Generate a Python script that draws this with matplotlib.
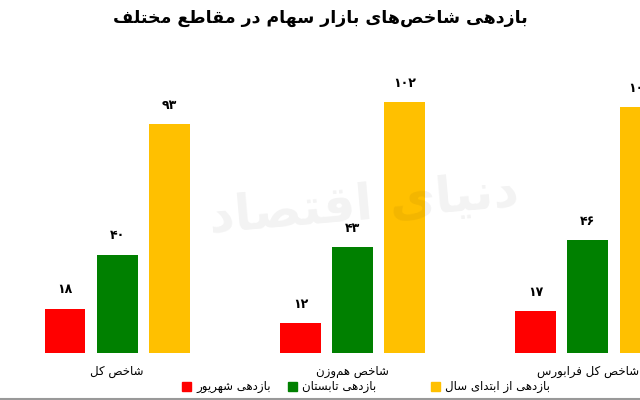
import numpy as np
import matplotlib.pyplot as plt
from matplotlib.patches import Rectangle

title = "بازدهی شاخص‌های بازار سهام در مقاطع مختلف"
groups = ["شاخص کل", "شاخص هم‌وزن", "شاخص کل فرابورس"]
series = ["بازدهی شهریور", "بازدهی تابستان", "بازدهی از ابتدای سال"]
shahrivar = [18, 12, 17]
tabestan = [40, 43, 46]
az_ebteda = [93, 102, 100]
colors = ["#ff0000", "#008000", "#ffc000"]
watermark = "دنیای اقتصاد"

# simple Persian shaping (presentation forms) since matplotlib has no text shaping
FORMS = {
    'ا': (0xFE8D, 0xFE8E, None, None), 'د': (0xFEA9, 0xFEAA, None, None),
    'ر': (0xFEAD, 0xFEAE, None, None), 'ز': (0xFEAF, 0xFEB0, None, None),
    'و': (0xFEED, 0xFEEE, None, None),
    'ب': (0xFE8F, 0xFE90, 0xFE91, 0xFE92), 'ت': (0xFE95, 0xFE96, 0xFE97, 0xFE98),
    'خ': (0xFEA5, 0xFEA6, 0xFEA7, 0xFEA8), 'س': (0xFEB1, 0xFEB2, 0xFEB3, 0xFEB4),
    'ش': (0xFEB5, 0xFEB6, 0xFEB7, 0xFEB8), 'ص': (0xFEB9, 0xFEBA, 0xFEBB, 0xFEBC),
    'ط': (0xFEC1, 0xFEC2, 0xFEC3, 0xFEC4), 'ع': (0xFEC9, 0xFECA, 0xFECB, 0xFECC),
    'ف': (0xFED1, 0xFED2, 0xFED3, 0xFED4), 'ق': (0xFED5, 0xFED6, 0xFED7, 0xFED8),
    'ل': (0xFEDD, 0xFEDE, 0xFEDF, 0xFEE0), 'م': (0xFEE1, 0xFEE2, 0xFEE3, 0xFEE4),
    'ن': (0xFEE5, 0xFEE6, 0xFEE7, 0xFEE8), 'ه': (0xFEE9, 0xFEEA, 0xFEEB, 0xFEEC),
    'ک': (0xFB8E, 0xFB8F, 0xFB90, 0xFB91), 'ی': (0xFBFC, 0xFBFD, 0xFBFE, 0xFBFF),
}


def dual(c):
    return c in FORMS and FORMS[c][2] is not None


def shape(text):
    out = []
    for i, c in enumerate(text):
        if c not in FORMS:
            out.append(c if c != '\u200c' else '')
            continue
        prev = text[i - 1] if i > 0 else ''
        nxt = text[i + 1] if i + 1 < len(text) else ''
        jp = dual(prev)
        jn = dual(c) and nxt in FORMS
        iso, fin, ini, med = FORMS[c]
        if jp and jn:
            code = med
        elif jp:
            code = fin
        elif jn:
            code = ini
        else:
            code = iso
        out.append(chr(code))
    return ''.join(out)[::-1]


def fa_num(n):
    return str(n).translate(str.maketrans("0123456789", "۰۱۲۳۴۵۶۷۸۹"))


plt.rcParams['font.family'] = ['DejaVu Sans']
fig = plt.figure(figsize=(6.4, 4.0), dpi=100)
ax = fig.add_axes([0, 0.1175, 1, 0.8825])

x = np.arange(len(groups))
w = 0.174
off = 0.221
for k, vals in enumerate([shahrivar, tabestan, az_ebteda]):
    bars = ax.bar(x + (k - 1) * off, vals, w, color=colors[k])
    for b, v in zip(bars, vals):
        ax.text(b.get_x() + b.get_width() / 2, v + 5, fa_num(v), ha='center',
                va='bottom', fontsize=9, fontweight='bold')

ax.set_xlim(-0.497, 2.221)
ax.set_ylim(0, 143.5)
ax.axis('off')

for i, g in enumerate(groups):
    ax.text(i, -5, shape(g), ha='center', va='top', fontsize=8.5)

ax.text(1.05, 60, shape(watermark), ha='center', va='center', fontsize=36,
        color='#000000', alpha=0.05, fontweight='bold', rotation=5)

fig.text(0.5, 0.955, shape(title), ha='center', va='center', fontsize=12.5,
         fontweight='bold')

legend_x = [182, 288, 431]
for lx, name, col in zip(legend_x, series, colors):
    fig.patches.append(Rectangle((lx / 640, 0.022), 9 / 640, 9 / 400,
                                 transform=fig.transFigure, color=col))
    fig.text((lx + 14) / 640, 0.033, shape(name), ha='left', va='center',
             fontsize=8.5)

fig.add_artist(plt.Line2D([0, 1], [0.002, 0.002], color='#999999', lw=1.5))
fig.savefig("out.png", dpi=100)
